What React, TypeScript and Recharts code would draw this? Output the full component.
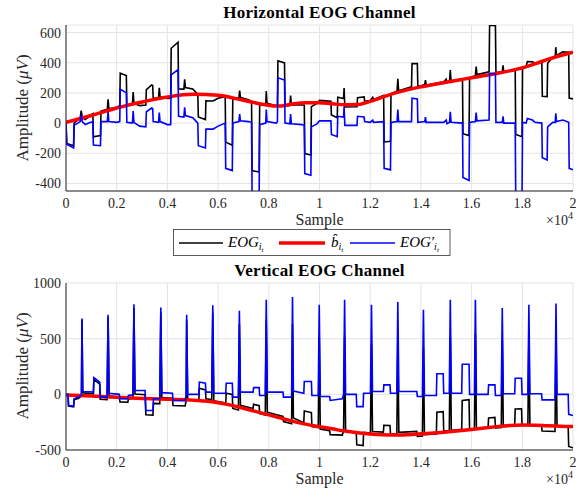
import React from 'react';
import { LineChart, Line, XAxis, YAxis, CartesianGrid } from 'recharts';

const FONT = '"Liberation Serif", "Times New Roman", serif';

const xTicks = [0, 2000, 4000, 6000, 8000, 10000, 12000, 14000, 16000, 18000, 20000];
const xTickLabels = ['0', '0.2', '0.4', '0.6', '0.8', '1', '1.2', '1.4', '1.6', '1.8', '2'];
const hYTicks = [-400, -200, 0, 200, 400, 600];
const vYTicks = [-500, 0, 500, 1000];
const hDomain = [-450, 650];
const vDomain = [-500, 1000];

const titles = ['Horizontal EOG Channel', 'Vertical EOG Channel'];

// Horizontal channel: raw EOG (black)
const hEog: [number, number][] = [
  [0, 5], [30, -135], [300, -150], [320, 0], [560, 35], [600, 82], [640, 39], [760, 24], [900, 41],
  [1060, 63], [1080, -91], [1360, -82], [1380, 79], [1630, 92], [1660, 158], [1690, 95], [2000, 105],
  [2120, 115], [2140, 331], [2380, 315], [2400, 121], [2620, 125], [2650, 206], [2680, 132], [2900, 116],
  [3150, 120], [3170, 221], [3380, 253], [3420, 249], [3440, 165], [3650, 167], [3680, 233], [3710, 174],
  [4000, 163], [4130, 165], [4150, 496], [4420, 536], [4440, 226], [4650, 225], [4680, 290], [4710, 236],
  [5000, 226], [5200, 190], [5220, 40], [5500, 23], [5520, 148], [5800, 146], [6000, 164], [6280, 175],
  [6300, -126], [6560, -147], [6580, 167], [6820, 167], [6850, 216], [6880, 170], [7200, 154], [7320, 145],
  [7340, -315], [7620, -325], [7640, 121], [7880, 123], [7900, 212], [7930, 131], [8300, 114], [8340, 123],
  [8360, 413], [8620, 399], [8640, 114], [8830, 116], [8860, 183], [8890, 120], [9300, 122], [9400, 118],
  [9420, -202], [9660, -211], [9680, 109], [9900, 130], [10000, 150], [10450, 144], [10470, 54], [10700, 36],
  [10720, 171], [10950, 163], [10970, 233], [11000, 107], [11480, 108], [11500, 168], [11760, 174], [11780, 145],
  [12000, 149], [12100, 170], [12130, 157], [12530, 184], [12550, -125], [12800, -121], [12820, 195], [13060, 213],
  [13090, 294], [13120, 215], [13630, 240], [13650, 395], [13860, 394], [13880, 240], [14150, 255], [14180, 285],
  [14210, 251], [14900, 273], [15000, 291], [15030, 267], [15130, 280], [15160, 351], [15190, 281], [15640, 289],
  [15660, -70], [15900, -83], [15920, 302], [16150, 314], [16180, 375], [16210, 321], [16690, 340], [16710, 648],
  [16940, 645], [16960, 333], [17210, 341], [17240, 382], [17270, 338], [17720, 355], [17740, -75], [17990, -90],
  [18010, 371], [18150, 374], [18200, 407], [18400, 406], [18500, 397], [18770, 407], [18790, 178], [18980, 176],
  [19000, 397], [19200, 437], [19300, 442], [19320, 503], [19350, 449], [19600, 472], [19830, 470], [19850, 166],
  [20000, 160],
];

// Horizontal channel: estimated baseline (red)
const hBase: [number, number][] = [
  [0, 5], [1000, 50], [2000, 100], [3000, 140], [4000, 173], [5000, 191], [6000, 184], [6500, 170],
  [7000, 151], [7500, 133], [8000, 118], [8250, 113], [8500, 114], [9000, 128], [9500, 134], [10000, 135],
  [10500, 128], [11000, 122], [11500, 123], [12000, 144], [12500, 172], [13000, 200], [13500, 222],
  [14000, 240], [14500, 256], [15000, 271], [15500, 286], [16000, 300], [16500, 315], [17000, 329],
  [17500, 346], [18000, 366], [18500, 392], [19000, 422], [19500, 447], [20000, 470],
];

// Horizontal channel: corrected EOG (blue)
const hClean: [number, number][] = [
  [0, 0], [30, -140], [300, -165], [320, -15], [560, 10], [600, 55], [640, 10], [760, -10], [900, 0],
  [1060, 10], [1080, -145], [1360, -150], [1380, 10], [1630, 10], [1660, 75], [1690, 10], [2000, 5],
  [2120, 10], [2140, 225], [2380, 200], [2400, 5], [2620, 0], [2650, 80], [2680, 5], [2900, -20],
  [3150, -25], [3170, 75], [3380, 100], [3420, 95], [3440, 10], [3650, 5], [3680, 70], [3710, 10],
  [4000, -10], [4130, -10], [4150, 320], [4420, 355], [4440, 45], [4650, 40], [4680, 105], [4710, 50],
  [5000, 35], [5200, 0], [5220, -150], [5500, -165], [5520, -40], [5800, -40], [6000, -20], [6280, 0],
  [6300, -300], [6560, -315], [6580, 0], [6820, 10], [6850, 60], [6880, 15], [7200, 10], [7320, 5],
  [7340, -460], [7620, -470], [7640, -10], [7880, 0], [7900, 90], [7930, 10], [8300, 0], [8340, 10],
  [8360, 300], [8620, 285], [8640, 0], [8830, -5], [8860, 60], [8890, -5], [9300, -10], [9400, -15],
  [9420, -335], [9660, -345], [9680, -25], [9900, -5], [10000, 15], [10450, 15], [10470, -75], [10700, -90],
  [10720, 45], [10950, 40], [10970, 110], [11000, -15], [11480, -15], [11500, 45], [11760, 40], [11780, 10],
  [12000, 5], [12100, 20], [12130, 5], [12530, 10], [12550, -300], [12800, -310], [12820, 5], [13060, 10],
  [13090, 90], [13120, 10], [13630, 10], [13650, 165], [13860, 160], [13880, 5], [14150, 10], [14180, 40],
  [14210, 5], [14900, 5], [15000, 20], [15030, -5], [15130, 5], [15160, 75], [15190, 5], [15640, 0],
  [15660, -360], [15900, -380], [15920, 5], [16150, 10], [16180, 70], [16210, 15], [16690, 20], [16710, 330],
  [16940, 325], [16960, 5], [17210, 5], [17240, 45], [17270, 0], [17720, 0], [17740, -460], [17990, -470],
  [18010, 5], [18150, 0], [18200, 30], [18400, 20], [18500, 5], [18770, 0], [18790, -230], [18980, -245],
  [19000, -25], [19200, 5], [19300, 5], [19320, 65], [19350, 10], [19600, 20], [19830, 5], [19850, -300],
  [20000, -310],
];

// Vertical channel: raw EOG (black)
const vEog: [number, number][] = [
  [0, -5], [80, -6], [100, -106], [300, -113], [320, -48], [500, -35], [580, -21], [610, -16], [630, 669],
  [660, 19], [700, 13], [1080, 4], [1100, 134], [1330, 91], [1350, -44], [1620, -47], [1660, 692], [1700, -13],
  [2100, -28], [2130, -68], [2440, -71], [2460, -41], [2640, -38], [2680, 777], [2720, 2], [3120, -3],
  [3150, -183], [3430, -186], [3450, -81], [3700, -83], [3740, 737], [3780, -28], [4200, -36], [4220, -101],
  [4700, -105], [4720, -80], [4740, -60], [4760, 665], [4800, -50], [5240, -56], [5260, 54], [5500, 40],
  [5520, -40], [5750, -47], [5790, 732], [5830, -59], [6300, -78], [6320, 11], [6560, -1], [6580, -127],
  [6800, -140], [6840, 633], [6880, -99], [7380, -128], [7400, -89], [7620, -102], [7640, -173], [7860, -186],
  [7900, 671], [7940, -161], [8560, -199], [8580, -245], [8900, -264], [8935, 634], [8970, -213], [9380, -254],
  [9400, -150], [9680, -164], [9700, -290], [9950, -298], [9990, 515], [10030, -311], [10400, -326],
  [10420, -362], [10900, -366], [10950, -328], [10990, 520], [11030, -331], [11450, -343], [11470, -453],
  [11720, -460], [11740, -341], [12010, -347], [12050, 447], [12090, -334], [12520, -339], [12540, -279],
  [12780, -280], [12800, -355], [13050, -356], [13090, 464], [13130, -341], [13840, -333], [13860, -378],
  [14060, -374], [14100, 407], [14140, -363], [14610, -356], [14630, -161], [14880, -156], [14900, -331],
  [15120, -326], [15160, 515], [15200, -325], [15610, -315], [15630, -55], [15900, -48], [15920, -317],
  [16110, -312], [16150, 539], [16190, -310], [16650, -298], [16670, -213], [16920, -207], [16940, -302],
  [17170, -297], [17210, 489], [17250, -281], [17700, -271], [17720, -131], [17970, -130], [17990, -275],
  [18220, -276], [18260, 529], [18300, -271], [18760, -274], [18780, -329], [19290, -334], [19330, 530],
  [19370, -285], [19810, -288], [19830, -468], [20000, -480],
];

// Vertical channel: estimated baseline (red)
const vBase: [number, number][] = [
  [0, -5], [1000, -15], [2000, -27], [3000, -37], [4000, -45], [5000, -52], [5500, -60], [6000, -75],
  [6500, -97], [7000, -125], [7500, -155], [8000, -185], [8500, -215], [9000, -245], [9500, -270],
  [10000, -290], [10500, -310], [11000, -330], [11500, -345], [12000, -357], [12500, -364], [13000, -366],
  [13500, -363], [14000, -355], [14500, -348], [15000, -338], [15500, -327], [16000, -315], [16500, -302],
  [17000, -290], [17500, -280], [18000, -275], [18500, -277], [19000, -282], [19500, -286], [20000, -290],
];

// Vertical channel: corrected EOG (blue)
const vClean: [number, number][] = [
  [0, 0], [80, 0], [100, -100], [300, -105], [320, -40], [500, -25], [580, -10], [610, -5], [630, 680],
  [660, 30], [700, 25], [1080, 20], [1100, 150], [1330, 110], [1350, -25], [1620, -25], [1660, 715], [1700, 10],
  [2100, 0], [2130, -40], [2440, -40], [2460, -10], [2640, -5], [2680, 810], [2720, 35], [3120, 35],
  [3150, -145], [3430, -145], [3450, -40], [3700, -40], [3740, 780], [3780, 15], [4200, 10], [4220, -55],
  [4700, -55], [4720, -30], [4740, -10], [4760, 715], [4800, 0], [5240, 0], [5260, 110], [5500, 100],
  [5520, 20], [5750, 20], [5790, 800], [5830, 10], [6300, 10], [6320, 100], [6560, 100], [6580, -25],
  [6800, -25], [6840, 750], [6880, 20], [7380, 20], [7400, 60], [7620, 60], [7640, -10], [7860, -10],
  [7900, 850], [7940, 20], [8560, 20], [8580, -25], [8900, -25], [8935, 875], [8970, 30], [9380, 10],
  [9400, 115], [9680, 115], [9700, -10], [9950, -10], [9990, 805], [10030, -20], [10400, -20], [10420, -55],
  [10900, -40], [10950, 0], [10990, 850], [11030, 0], [11450, 0], [11470, -110], [11720, -110], [11740, 10],
  [12010, 10], [12050, 805], [12090, 25], [12520, 25], [12540, 85], [12780, 85], [12800, 10], [13050, 10],
  [13090, 830], [13130, 25], [13840, 25], [13860, -20], [14060, -20], [14100, 760], [14140, -10], [14610, -10],
  [14630, 185], [14880, 185], [14900, 10], [15120, 10], [15160, 850], [15200, 10], [15610, 10], [15630, 270],
  [15900, 270], [15920, 0], [16110, 0], [16150, 850], [16190, 0], [16650, 0], [16670, 85], [16920, 85],
  [16940, -10], [17170, -10], [17210, 775], [17250, 5], [17700, 5], [17720, 145], [17970, 145], [17990, 0],
  [18220, 0], [18260, 805], [18300, 5], [18760, 5], [18780, -50], [19290, -50], [19330, 815], [19370, 0],
  [19810, 0], [19830, -180], [20000, -190],
];

const rows = (pts: [number, number][]) => pts.map(([x, y]) => ({ x, y }));
const fmtX = (v: number) => xTickLabels[xTicks.indexOf(v)] ?? '';

const AXIS = '#262626';
const tickTextStyle = { fontFamily: FONT, fontSize: 14, fill: AXIS };

const XTick = (p: any) => (
  <text x={p.x} y={p.y} dy="0.71em" textAnchor="middle" style={tickTextStyle}>
    {fmtX(p.payload.value)}
  </text>
);
const YTick = (p: any) => (
  <text x={p.x} y={p.y} dy="0.355em" textAnchor="end" style={tickTextStyle}>
    {String(p.payload.value)}
  </text>
);

function Panel(props: {
  top: number; height: number; marginTop: number; marginBottom: number;
  domain: number[]; yTicks: number[];
  eog: [number, number][]; base: [number, number][]; clean: [number, number][];
}) {
  const { top, height, marginTop, marginBottom, domain, yTicks, eog, base, clean } = props;
  return (
    <div style={{ position: 'absolute', left: 0, top, fontFamily: FONT }}>
      <LineChart width={583} height={height} margin={{ top: marginTop, right: 10, bottom: marginBottom, left: 0 }}
        style={{ fontFamily: FONT }}>
        <CartesianGrid stroke="#e4e4e4" strokeWidth={1} />
        <XAxis type="number" dataKey="x" domain={[0, 20000]} ticks={xTicks}
          interval={0} allowDataOverflow height={24} tickSize={0} tickMargin={7}
          stroke={AXIS} tick={XTick} />
        <YAxis type="number" domain={domain} ticks={yTicks} interval={0} allowDataOverflow width={66}
          tickSize={0} tickMargin={5} stroke={AXIS} tick={YTick} />
        <Line data={rows(eog)} dataKey="y" type="linear" stroke="#000000" strokeWidth={1.6}
          dot={false} activeDot={false} isAnimationActive={false} />
        <Line data={rows(base)} dataKey="y" type="monotone" stroke="#ff0000" strokeWidth={3.5}
          dot={false} activeDot={false} isAnimationActive={false} />
        <Line data={rows(clean)} dataKey="y" type="linear" stroke="#0000ff" strokeWidth={1.6}
          dot={false} activeDot={false} isAnimationActive={false} />
      </LineChart>
    </div>
  );
}

function EogLabel({ x, y, prime }: { x: number; y: number; prime?: boolean }) {
  return (
    <text x={x} y={y} fontFamily={FONT} fontSize={15} fill="#000">
      <tspan fontStyle="italic">{prime ? 'EOG\u2032' : 'EOG'}</tspan>
      <tspan fontStyle="italic" fontSize={10} dy={3}>i</tspan>
      <tspan fontStyle="italic" fontSize={7} dy={2}>t</tspan>
    </text>
  );
}

export default function App() {
  return (
    <div style={{ position: 'absolute', left: 0, top: 0, width: 583, height: 493, background: '#fff', fontFamily: FONT }}>
      <Panel top={0} height={215} marginTop={25} marginBottom={0} domain={hDomain} yTicks={hYTicks}
        eog={hEog} base={hBase} clean={hClean} />
      <Panel top={250} height={224} marginTop={33} marginBottom={0} domain={vDomain} yTicks={vYTicks}
        eog={vEog} base={vBase} clean={vClean} />
      <svg width={583} height={493} style={{ position: 'absolute', left: 0, top: 0, pointerEvents: 'none' }}>
        <text x={319.5} y={18} textAnchor="middle" fontFamily={FONT} fontWeight="bold" fontSize={17}
          letterSpacing={0.3} fill="#000">{titles[0]}</text>
        <text x={319.5} y={276} textAnchor="middle" fontFamily={FONT} fontWeight="bold" fontSize={17}
          letterSpacing={0.3} fill="#000">{titles[1]}</text>

        <text transform="translate(28,108) rotate(-90)" textAnchor="middle" fontFamily={FONT} fontSize={17} fill={AXIS}>
          Amplitude (<tspan fontStyle="italic">μV</tspan>)
        </text>
        <text transform="translate(28,366) rotate(-90)" textAnchor="middle" fontFamily={FONT} fontSize={17} fill={AXIS}>
          Amplitude (<tspan fontStyle="italic">μV</tspan>)
        </text>

        <text x={319.5} y={225} textAnchor="middle" fontFamily={FONT} fontSize={16} fill={AXIS}>Sample</text>
        <text x={319.5} y={484} textAnchor="middle" fontFamily={FONT} fontSize={16} fill={AXIS}>Sample</text>

        <text x={573} y={225} textAnchor="end" fontFamily={FONT} fontSize={14} fill={AXIS}>
          ×10<tspan fontSize={10} dy={-6}>4</tspan>
        </text>
        <text x={573} y={484} textAnchor="end" fontFamily={FONT} fontSize={14} fill={AXIS}>
          ×10<tspan fontSize={10} dy={-6}>4</tspan>
        </text>

        <rect x={173.5} y={229.5} width={276.5} height={26} fill="#fff" stroke={AXIS} strokeWidth={0.75} />
        <line x1={179} y1={243} x2={223} y2={243} stroke="#000" strokeWidth={1.5} />
        <EogLabel x={228} y={247} />
        <line x1={279} y1={243} x2={325} y2={243} stroke="#ff0000" strokeWidth={3.5} />
        <text x={331} y={247} fontFamily={FONT} fontSize={15} fontStyle="italic" fill="#000">
          {'b\u0302'}<tspan fontSize={10} dy={3}>i</tspan><tspan fontSize={7} dy={2}>t</tspan>
        </text>
        <line x1={350} y1={243} x2={395} y2={243} stroke="#0000ff" strokeWidth={1.5} />
        <EogLabel x={400} y={247} prime />
      </svg>
    </div>
  );
}
